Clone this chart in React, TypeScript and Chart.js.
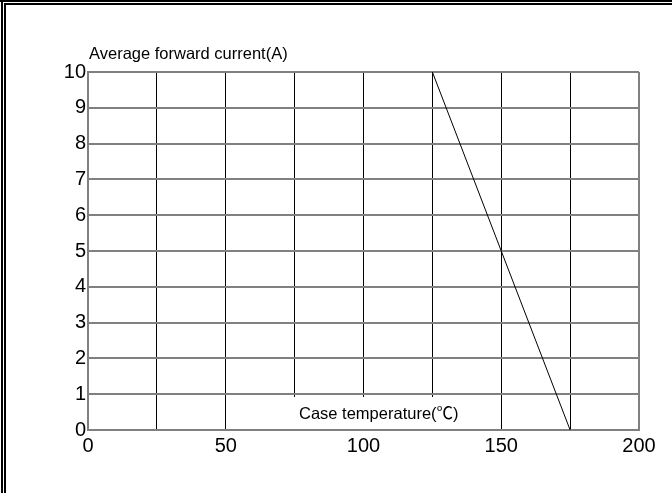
import React, { useEffect, useRef } from "react";
import { Chart, registerables } from "chart.js";

Chart.register(...registerables);

const xTicks = [0, 25, 50, 75, 100, 125, 150, 175, 200];
const xLabels = ["0", "", "50", "", "100", "", "150", "", "200"];
const yTicks = [0, 1, 2, 3, 4, 5, 6, 7, 8, 9, 10];
const curveX = [125, 175];
const curveY = [10, 0];
const yTitle = "Average forward current(A)";
const xTitle = "Case temperature(\u2103)";

const FONT = "'Liberation Sans', Arial, 'Noto Sans CJK SC', sans-serif";

const decorPlugin = {
  id: "decor",
  afterDatasetsDraw(chart: any) {
    const ctx = chart.ctx;
    ctx.save();
    // white box behind x title
    ctx.fillStyle = "#fff";
    ctx.fillRect(290, 397, 185, 32);
    ctx.fillStyle = "#000";
    ctx.font = `16.5px ${FONT}`;
    ctx.textBaseline = "alphabetic";
    ctx.textAlign = "left";
    ctx.fillText(xTitle, 299, 419);
    ctx.fillText(yTitle, 89, 59);
    ctx.restore();
  },
  afterDraw(chart: any) {
    const ctx = chart.ctx;
    ctx.save();
    ctx.fillStyle = "#000";
    ctx.fillRect(0, 0, 672, 2);
    ctx.fillRect(1, 0, 2, 493);
    ctx.fillRect(4, 3, 668, 2);
    ctx.fillRect(4, 3, 2, 490);
    ctx.restore();
  },
};

export default function App() {
  const ref = useRef<HTMLCanvasElement | null>(null);
  useEffect(() => {
    if (!ref.current) return;
    const chart = new Chart(ref.current, {
      type: "line",
      data: {
        datasets: [
          {
            data: curveX.map((x, i) => ({ x, y: curveY[i] })),
            borderColor: "#000",
            borderWidth: 1,
            pointRadius: 0,
            fill: false,
          },
        ],
      },
      options: {
        animation: false,
        responsive: false,
        devicePixelRatio: 1,
        layout: { padding: { top: 72, right: 33, left: 0, bottom: 0 } },
        plugins: { legend: { display: false }, tooltip: { enabled: false } },
        scales: {
          x: {
            type: "linear",
            min: 0,
            max: 200,
            afterBuildTicks: (scale: any) => {
              scale.ticks = xTicks.map((v) => ({ value: v }));
            },
            afterFit: (scale: any) => {
              scale.height = 63;
            },
            ticks: {
              autoSkip: false,
              maxRotation: 0,
              padding: 4,
              color: "#000",
              font: { family: FONT, size: 20 },
              callback: (v: any) => {
                const i = xTicks.indexOf(Number(v));
                return i >= 0 ? xLabels[i] : "";
              },
            },
            grid: {
              drawTicks: false,
              color: (c: any) =>
                c.tick && (c.tick.value === 0 || c.tick.value === 200) ? "#808080" : "#000",
              lineWidth: (c: any) =>
                c.tick && (c.tick.value === 0 || c.tick.value === 200) ? 2 : 1,
            },
            border: { color: "#808080", width: 2 },
          },
          y: {
            type: "linear",
            min: 0,
            max: 10,
            afterBuildTicks: (scale: any) => {
              scale.ticks = yTicks.map((v) => ({ value: v }));
            },
            afterFit: (scale: any) => {
              scale.width = 88;
            },
            ticks: {
              autoSkip: false,
              padding: 2,
              color: "#000",
              font: { family: FONT, size: 20 },
            },
            grid: { drawTicks: false, color: "#808080", lineWidth: 2 },
            border: { color: "#808080", width: 2 },
          },
        },
      },
      plugins: [decorPlugin],
    });
    return () => chart.destroy();
  }, []);
  return (
    <div style={{ position: "fixed", left: 0, top: 0, width: 672, height: 493, background: "#fff" }}>
      <canvas ref={ref} width={672} height={493} style={{ width: 672, height: 493, display: "block" }} />
    </div>
  );
}
